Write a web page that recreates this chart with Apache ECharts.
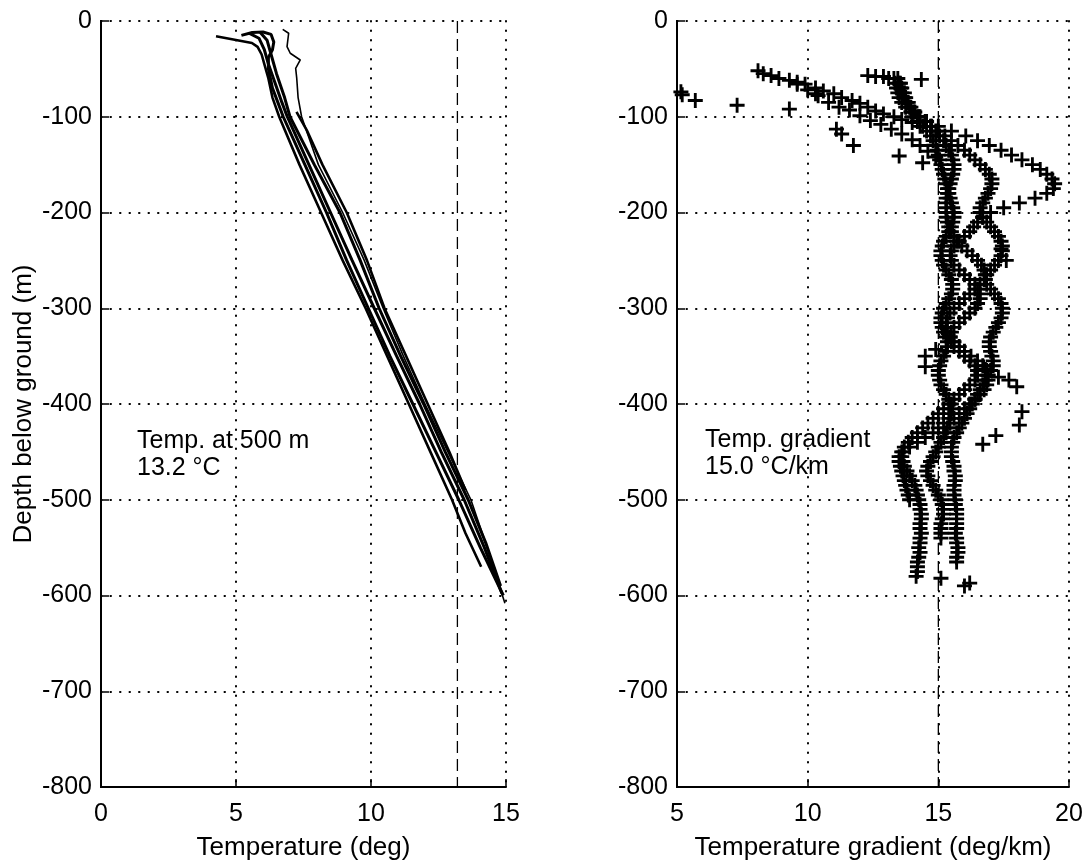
<!DOCTYPE html>
<html>
<head>
<meta charset="utf-8">
<title>Borehole temperature and gradient profiles</title>
<script src="https://cdn.jsdelivr.net/npm/echarts@6.0.0/dist/echarts.min.js"></script>
<style>
  html, body { margin: 0; padding: 0; background: #fff; }
  #chart { width: 1088px; height: 860px; }
</style>
</head>
<body>
<div id="chart"></div>
<script>
// ---------- values ----------
const TEMP_AT_500 = 13.2;   // deg C, dashed reference line in the left panel
const GRADIENT = 15.0;      // deg C per km, dashed reference line in the right panel

const depthTicks = [0, -100, -200, -300, -400, -500, -600, -700, -800];
const tempTicks = [0, 5, 10, 15];
const gradTicks = [5, 10, 15, 20];

// temperature profiles: [temperature (deg), depth (m)]
const profileA = [[4.26,-16],[5.59,-23],[5.8,-27],[5.95,-35],[6.05,-45],[6.2,-60],[6.35,-80],[6.6,-100],[7.35,-150],[8.15,-200],[8.95,-250],[9.8,-300],[10.6,-350],[11.4,-400],[12.2,-450],[13.0,-500],[13.5,-535],[14.08,-570]];
const profileB = [[5.2,-15],[5.6,-12],[6.0,-11.5],[6.3,-14],[6.4,-22],[6.35,-30],[6.2,-38],[6.2,-50],[6.35,-70],[6.55,-85],[6.75,-100],[7.55,-150],[8.35,-200],[9.1,-250],[9.9,-300],[10.7,-350],[11.55,-400],[12.4,-450],[13.25,-500],[14.05,-550],[14.9,-600]];
const profileC = [[5.5,-13],[5.85,-18],[6.05,-30],[6.2,-45],[6.45,-65],[6.7,-85],[6.9,-100],[7.7,-150],[8.5,-200],[9.3,-250],[10.12,-300],[10.95,-350],[11.8,-400],[12.6,-450],[13.45,-500],[14.2,-550],[14.85,-598]];
const profileD = [[5.9,-12],[6.15,-20],[6.3,-35],[6.5,-55],[6.8,-80],[7.0,-100],[7.9,-150],[8.85,-200],[9.6,-250],[10.3,-300],[11.1,-350],[11.95,-400],[12.75,-450],[13.6,-500],[14.25,-545],[14.8,-590]];
const profileE = [[6.73,-8.7],[6.95,-12.8],[6.89,-26.8],[7.01,-33.7],[7.38,-40.7],[7.21,-49.4],[7.25,-60],[7.3,-80],[7.43,-100],[8.05,-150],[8.95,-200],[9.75,-250],[10.45,-300],[11.2,-350],[12.0,-400],[12.85,-450],[13.7,-500],[14.3,-550],[14.96,-608]];
const profileF = [[7.24,-95],[7.62,-114],[8.2,-150],[9.1,-200],[9.85,-250],[10.5,-300],[11.3,-350],[12.1,-400],[12.9,-450],[13.5,-490]];

// gradient logs sampled every STEP metres, starting at the listed depth (m)
const STEP = 5;
const strandTops = [60, 60, 65, 100];
const gradStrandA = [
  13.3,13.35,13.4,13.45,13.5,13.6,13.75,13.95,14.2,14.55,
  15.0,15.5,16.05,16.5,16.95,17.4,17.8,18.2,18.6,18.9,
  19.15,19.35,19.45,19.4,19.15,18.7,18.1,17.5,17.0,16.7,
  16.5,16.35,
  16.2,16.0,15.8,15.6,15.5,15.45,15.5,15.6,15.8,16.0,16.2,16.4,16.5,16.6,16.6,16.5,16.4,
  16.2,16.0,15.8,15.6,15.5,15.45,15.5,15.6,15.8,16.0,16.2,16.4,16.5,16.5,16.4,16.2,16.0,15.8,15.6,15.4,
  15.2,15.0,14.8,14.6,14.4,14.2,14.0,13.85,13.7,13.6,13.6,13.65,13.7,13.8,13.9,14.0,14.1,14.15,14.2,14.25,
  14.3,14.3,14.35,14.35,14.3,14.3,14.35,14.3,14.3,14.25,14.3,14.25,14.2,14.2,14.2,14.15
];
const gradStrandB = [
  13.45,13.5,13.55,13.6,13.7,13.8,13.9,14.05,14.25,14.5,
  14.75,15.0,15.25,15.5,15.75,16.0,16.2,16.4,16.6,16.8,
  16.95,17.05,17.05,17.0,16.9,16.8,16.7,16.6,16.6,16.7,16.85,17.0,
  17.15,17.3,17.4,17.45,17.45,17.4,17.3,17.15,17.0,16.85,16.8,16.85,17.0,17.15,17.3,17.4,17.45,
  17.45,17.4,17.3,17.2,17.1,17.0,16.95,16.95,17.0,17.05,17.1,17.1,17.0,16.9,16.8,16.7,16.6,16.5,16.4,16.3,
  16.2,16.1,16.0,15.9,15.8,15.7,15.6,15.55,15.5,15.5,15.5,15.55,15.6,15.6,15.65,15.65,15.6,15.6,15.6,15.65,
  15.65,15.7,15.7,15.7,15.7,15.7,15.65,15.7,15.7,15.75,15.75,15.7,15.7
];
const gradStrandC = [
  13.55,13.6,13.7,13.75,13.85,13.95,14.1,14.3,14.5,14.7,
  14.9,15.05,15.2,15.3,15.4,15.5,15.55,15.6,15.6,15.55,
  15.5,15.45,15.4,15.35,15.3,15.3,15.3,15.3,15.3,15.35,15.4,
  15.5,15.6,15.7,15.9,16.1,16.3,16.5,16.65,16.75,16.8,16.75,16.6,16.4,16.2,16.0,15.8,15.6,
  15.45,15.35,15.3,15.3,15.35,15.45,15.6,15.8,16.0,16.25,16.5,16.7,16.85,16.9,16.9,16.85,16.75,16.6,16.4,16.2,
  16.0,15.8,15.6,15.45,15.35,15.3,15.2,15.1,15.0,14.9,14.8,14.7,14.6,14.55,14.6,14.7,14.8,14.9,15.0,15.1,
  15.15,15.2,15.2,15.15,15.1,15.1,15.1,15.1
];
const gradStrandD = [
  14.0,14.2,14.4,14.55,14.7,14.8,14.9,14.95,15.0,15.05,
  15.1,15.15,15.2,15.25,15.3,15.35,15.4,15.45,15.5,15.55,15.6,15.6,15.55,15.5,
  15.4,15.3,15.2,15.15,15.1,15.1,15.15,15.2,15.3,15.4,15.5,15.55,15.55,15.5,15.4,15.3,15.2,
  15.15,15.1,15.1,15.15,15.2,15.3,15.35,15.35,15.3,15.2,15.1,15.05,15.0,15.0,15.05,15.1,15.2,15.3,15.4,15.5,
  15.55,15.5,15.4,15.2,15.0,14.8,14.5,14.2,13.9,13.65,13.5,13.5,13.55,13.6,13.65,13.7,13.75,13.8,13.85,13.9
];

// shallow gradient readings: [gradient (deg/km), depth (m)]
const shallowUpper = [[8.1,-52],[8.3,-55],[8.6,-57],[8.9,-60],[9.3,-62],[9.6,-64],[9.9,-66],[10.3,-70],[10.6,-73],[11.0,-76],[11.3,-80],[11.7,-83],[12.0,-86],[12.3,-90],[12.6,-94],[12.9,-97],[13.3,-100],[13.6,-103],[14.0,-106],[14.3,-110]];
const shallowLower = [[9.6,-66],[10.0,-72],[10.3,-76],[10.4,-78],[10.8,-85],[11.2,-90],[11.6,-93],[12.0,-99],[12.4,-104],[12.8,-108],[13.2,-113],[13.6,-118],[14.0,-124],[14.3,-130],[14.6,-136],[14.9,-142]];
const topRow = [[12.3,-57],[12.6,-58],[12.9,-58],[13.1,-60]];
const isolated = [
  [5.15,-74],[5.2,-77],[5.7,-83],[7.3,-88],[9.3,-92],[14.35,-61],
  [11.1,-113],[11.3,-118],[11.75,-130],[13.5,-141],[14.4,-148],
  [17.4,-238],[17.6,-250],[14.9,-343],[14.5,-350],[14.5,-361],
  [16.8,-364],[17.3,-372],[17.7,-375],[18.0,-382],[18.2,-408],[18.1,-422],[17.2,-433],[16.7,-442],
  [15.1,-582],[16.0,-590],[16.2,-587]
];

// ---------- chart ----------
const FONT = 'Liberation Sans, Arial, Helvetica, sans-serif';
const BLACK = '#000';

function strandPoints(values, top) {
  return values.map((g, i) => [g, -(top + i * STEP)]);
}

// "+" marker drawn as a filled cross
const plusSymbol = 'path://M0,4.05H4.05V0H5.95V4.05H10V5.95H5.95V10H4.05V5.95H0Z';

function valueAxis(opts) {
  return Object.assign({
    type: 'value',
    axisLine: { show: true, onZero: false, lineStyle: { color: BLACK, width: 2 } },
    axisTick: { show: true, inside: true, length: 8, lineStyle: { color: BLACK, width: 1.5 } },
    axisLabel: { color: BLACK, fontSize: 25, fontFamily: FONT, margin: 9 },
    splitLine: { show: true, lineStyle: { color: BLACK, width: 2, type: [0.5, 9], cap: 'round' } },
    nameTextStyle: { color: BLACK, fontSize: 26, fontFamily: FONT }
  }, opts);
}

function bottomAxis(opts) {
  const axis = valueAxis(opts);
  axis.axisLabel = Object.assign({}, axis.axisLabel, { margin: 15 });
  return axis;
}

const profiles = [profileA, profileB, profileC, profileD, profileE, profileF];
const profileWidths = [2.6, 3, 3, 3, 1.6, 2.6];

const series = [];
profiles.forEach((p, i) => {
  series.push({
    type: 'line', xAxisIndex: 0, yAxisIndex: 0, data: p,
    symbol: 'none', smooth: false, silent: true,
    lineStyle: { color: BLACK, width: profileWidths[i] }, z: 4
  });
});

// dashed reference lines
series.push({
  type: 'line', xAxisIndex: 0, yAxisIndex: 0,
  data: [[TEMP_AT_500, depthTicks[0]], [TEMP_AT_500, depthTicks[depthTicks.length - 1]]],
  symbol: 'none', silent: true,
  lineStyle: { color: BLACK, width: 1.3, type: [12, 6] }, z: 3
});
series.push({
  type: 'line', xAxisIndex: 1, yAxisIndex: 1,
  data: [[GRADIENT, depthTicks[0]], [GRADIENT, depthTicks[depthTicks.length - 1]]],
  symbol: 'none', silent: true,
  lineStyle: { color: BLACK, width: 1.3, type: [12, 6] }, z: 3
});

const gradStrands = [gradStrandA, gradStrandB, gradStrandC, gradStrandD];
const gradPoints = []
  .concat(...gradStrands.map((s, i) => strandPoints(s, strandTops[i])))
  .concat(shallowUpper, shallowLower, topRow, isolated);

series.push({
  type: 'scatter', xAxisIndex: 1, yAxisIndex: 1, data: gradPoints,
  symbol: plusSymbol, symbolSize: 15, silent: true,
  itemStyle: { color: BLACK, opacity: 1 }, z: 4
});

const chart = echarts.init(document.getElementById('chart'), null, { renderer: 'canvas' });
chart.setOption({
  backgroundColor: '#fff',
  animation: false,
  grid: [
    { left: 101, top: 21, width: 405, height: 766, containLabel: false, outerBoundsMode: 'none' },
    { left: 677, top: 21, width: 392, height: 766, containLabel: false, outerBoundsMode: 'none' }
  ],
  xAxis: [
    bottomAxis({
      gridIndex: 0, min: tempTicks[0], max: tempTicks[tempTicks.length - 1], interval: 5,
      name: 'Temperature (deg)', nameLocation: 'middle', nameGap: 48
    }),
    bottomAxis({
      gridIndex: 1, min: gradTicks[0], max: gradTicks[gradTicks.length - 1], interval: 5,
      name: 'Temperature gradient (deg/km)', nameLocation: 'middle', nameGap: 48
    })
  ],
  yAxis: [
    valueAxis({
      gridIndex: 0, min: depthTicks[depthTicks.length - 1], max: depthTicks[0], interval: 100,
      name: 'Depth below ground (m)', nameLocation: 'middle', nameGap: 64
    }),
    valueAxis({
      gridIndex: 1, min: depthTicks[depthTicks.length - 1], max: depthTicks[0], interval: 100
    })
  ],
  graphic: [
    {
      type: 'text', left: 137, top: 428, z: 10,
      style: {
        text: 'Temp. at 500 m\n' + TEMP_AT_500.toFixed(1) + ' °C',
        font: '25px ' + FONT, fill: BLACK, lineHeight: 27
      }
    },
    {
      type: 'text', left: 705, top: 427, z: 10,
      style: {
        text: 'Temp. gradient\n' + GRADIENT.toFixed(1) + ' °C/km',
        font: '25px ' + FONT, fill: BLACK, lineHeight: 27
      }
    }
  ],
  series: series
});
</script>
</body>
</html>
